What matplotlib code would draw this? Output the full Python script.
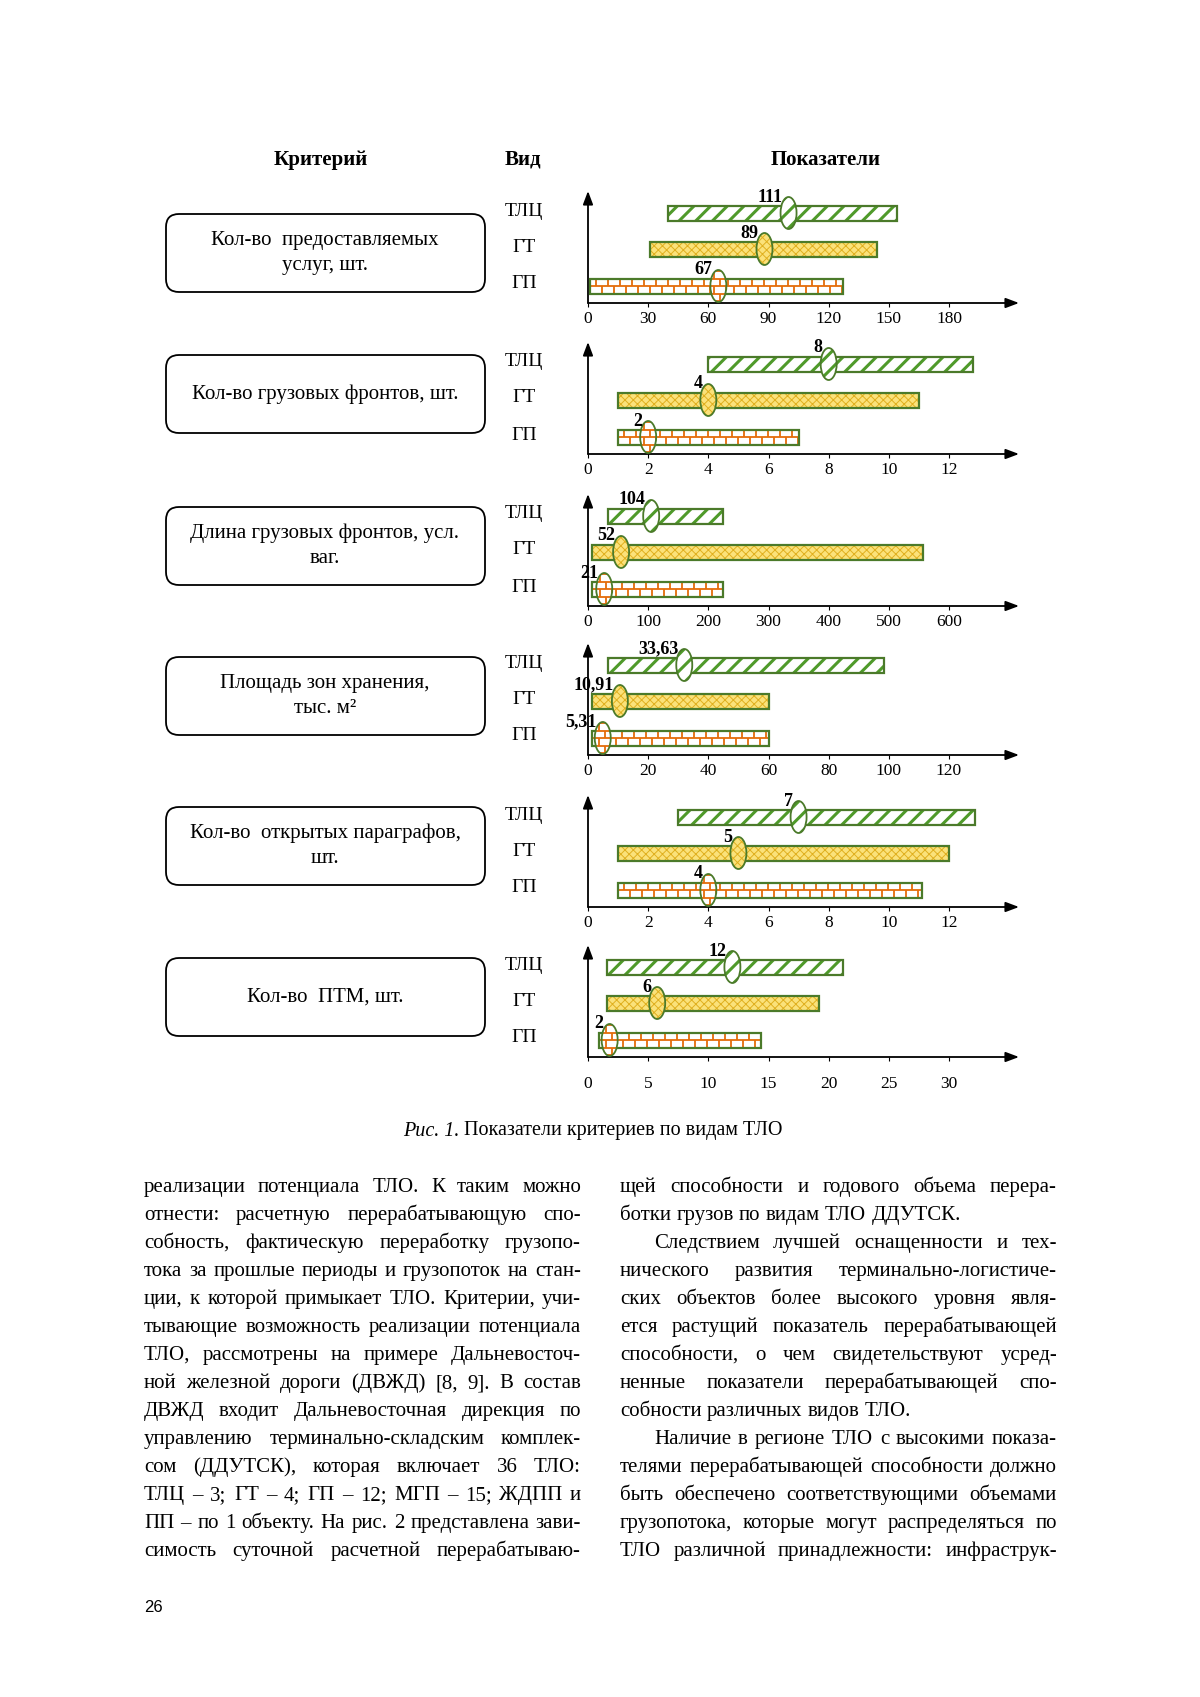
import numpy as np
import matplotlib
matplotlib.use("Agg")
import matplotlib.pyplot as plt
from matplotlib.patches import Rectangle, Ellipse, FancyBboxPatch
from matplotlib.collections import LineCollection

plt.rcParams['font.family'] = ['Liberation Serif', 'DejaVu Serif']

# --- данные ---
criteria = [
    ["Кол-во  предоставляемых", "услуг, шт."],
    ["Кол-во грузовых фронтов, шт."],
    ["Длина грузовых фронтов, усл.", "ваг."],
    ["Площадь зон хранения,", "тыс. м²"],
    ["Кол-во  открытых параграфов,", "шт."],
    ["Кол-во  ПТМ, шт."],
]
kinds = ["ТЛЦ", "ГТ", "ГП"]
x_max = [180, 12, 600, 120, 12, 30]
x_step = [30, 2, 100, 20, 2, 5]
bar_start = [[40, 31, 1], [4, 1, 1], [33, 7, 7], [6.6, 1.4, 1.4], [3, 1, 1], [1.6, 1.6, 0.9]]
bar_end = [[154, 144, 127], [12.8, 11, 7], [224, 556, 224], [98.5, 60, 60.3], [12.85, 12, 11.1], [21.2, 19.2, 14.4]]
mark_pos = [[100, 88, 65], [8, 4, 2], [105, 55, 27], [32, 10.6, 4.9], [7, 5, 4], [12, 5.75, 1.8]]
mark_label = [["111", "89", "67"], ["8", "4", "2"], ["104", "52", "21"],
              ["33,63", "10,91", "5,31"], ["7", "5", "4"], ["12", "6", "2"]]

left_col = [
    "реализации потенциала ТЛО. К таким можно",
    "отнести: расчетную перерабатывающую спо-",
    "собность, фактическую переработку грузопо-",
    "тока за прошлые периоды и грузопоток на стан-",
    "ции, к которой примыкает ТЛО. Критерии, учи-",
    "тывающие возможность реализации потенциала",
    "ТЛО, рассмотрены на примере Дальневосточ-",
    "ной железной дороги (ДВЖД) [8, 9]. В состав",
    "ДВЖД входит Дальневосточная дирекция по",
    "управлению терминально-складским комплек-",
    "сом (ДДУТСК), которая включает 36 ТЛО:",
    "ТЛЦ – 3; ГТ – 4; ГП – 12; МГП – 15; ЖДПП и",
    "ПП – по 1 объекту. На рис. 2 представлена зави-",
    "симость суточной расчетной перерабатываю-",
]
right_col = [
    "щей способности и годового объема перера-",
    "ботки грузов по видам ТЛО ДДУТСК.",
    "Следствием лучшей оснащенности и тех-",
    "нического развития терминально-логистиче-",
    "ских объектов более высокого уровня явля-",
    "ется растущий показатель перерабатывающей",
    "способности, о чем свидетельствуют усред-",
    "ненные показатели перерабатывающей спо-",
    "собности различных видов ТЛО.",
    "Наличие в регионе ТЛО с высокими показа-",
    "телями перерабатывающей способности должно",
    "быть обеспечено соответствующими объемами",
    "грузопотока, которые могут распределяться по",
    "ТЛО различной принадлежности: инфраструк-",
]
right_last = {1, 8}      # последние строки абзацев
right_indent = {2, 9}    # красная строка

# --- стили ---
EDGE = '#4b7a2a'
GREEN = '#4f9a2a'
YEL_FC = '#fbe27a'
YEL_H = '#e0b020'
ORANGE = '#e46c0a'

W, H = 1200, 1697
fig = plt.figure(figsize=(W / 100, H / 100), dpi=100)
page = fig.add_axes([0, 0, 1, 1])
page.set_xlim(0, W)
page.set_ylim(H, 0)
page.axis('off')
renderer = fig.canvas.get_renderer()

# заголовки
for x, s in [(321, "Критерий"), (523, "Вид"), (826, "Показатели")]:
    page.text(x, 160, s, fontsize=15, fontweight='bold', ha='center', va='center')

axis_y = [303, 454, 606, 755, 907, 1057]
box_top = [214, 355, 507, 657, 807, 958]
row_off = [90, 54, 17]
tick_pad = [3, 3, 3, 3, 3, 11]
x0_px, x1_px, xt_px = 588, 1019, 949


def hatch_lw(patch, lw):
    if hasattr(patch, 'set_hatch_linewidth'):
        patch.set_hatch_linewidth(lw)


def brick_lines(ax, clip, xa, xb, ya, yb, bw, rh, z):
    segs = []
    ys = np.arange(ya, yb + 0.01, rh)
    for i, y in enumerate(ys[:-1]):
        off = (i % 2) * bw / 2
        for x in np.arange(xa - bw + off, xb + bw, bw):
            segs.append([(x, y), (x, y + rh)])
    for y in ys:
        segs.append([(xa - bw, y), (xb + bw, y)])
    lc = LineCollection(segs, colors=ORANGE, linewidths=1.3, zorder=z)
    ax.add_collection(lc)
    lc.set_clip_path(clip)


for p in range(6):
    ay = axis_y[p]
    ax = fig.add_axes([x0_px / W, (H - ay) / H, (x1_px - x0_px) / W, 112 / H])
    xr = x_max[p] * (x1_px - x0_px) / (xt_px - x0_px)
    ax.set_xlim(0, xr)
    ax.set_ylim(0, 112)
    ppu = (x1_px - x0_px) / xr
    for s in ax.spines.values():
        s.set_visible(False)
    ax.set_yticks([])
    tv = np.arange(0, x_max[p] + 0.001, x_step[p])
    ax.set_xticks(tv)
    ax.set_xticklabels([str(int(v)) for v in tv])
    ax.tick_params(axis='x', direction='out', length=3, width=0.8, pad=tick_pad[p], labelsize=12.5)
    for xy in [(xr, 0), (0, 112)]:
        ax.annotate('', xy=xy, xytext=(0, 0), annotation_clip=False,
                    arrowprops=dict(arrowstyle='-|>,head_length=0.8,head_width=0.3', color='black',
                                    lw=1.3, shrinkA=0, shrinkB=0))

    bh = 15
    ew, eh = 16 / ppu, 32
    bw = 12 / ppu
    for k in range(3):
        yc = row_off[k]
        lo, hi = bar_start[p][k], bar_end[p][k]
        m = mark_pos[p][k]
        if k == 0:
            fk = dict(facecolor='white', edgecolor=GREEN, hatch='//')
            hl = 2.2
        elif k == 1:
            fk = dict(facecolor=YEL_FC, edgecolor=YEL_H, hatch='xxxx')
            hl = 0.7
        else:
            fk = dict(facecolor='white', edgecolor='white')
            hl = 1.0
        rf = Rectangle((lo, yc - bh / 2), hi - lo, bh, linewidth=0, zorder=2, **fk)
        hatch_lw(rf, hl)
        ax.add_patch(rf)
        if k == 2:
            brick_lines(ax, rf, lo, hi, yc - bh / 2, yc + bh / 2, bw, bh / 2, 3)
        ax.add_patch(Rectangle((lo, yc - bh / 2), hi - lo, bh, fill=False, edgecolor=EDGE,
                               linewidth=1.6, zorder=4))

        ef = Ellipse((m, yc), ew, eh, linewidth=0, zorder=5, **fk)
        hatch_lw(ef, hl)
        ax.add_patch(ef)
        if k == 2:
            brick_lines(ax, ef, m - ew, m + ew, yc - bh / 2 - bh, yc + bh / 2 + bh, bw, bh / 2, 6)
        ax.add_patch(Ellipse((m, yc), ew, eh, fill=False, edgecolor=EDGE, linewidth=1.3, zorder=7))
        ax.annotate(mark_label[p][k], xy=(m, yc), xytext=(-6, 16), textcoords='offset pixels',
                    ha='right', va='center', fontsize=13, fontweight='bold', zorder=8,
                    annotation_clip=False)

    # подписи видов
    for k in range(3):
        page.text(524, ay - row_off[k] - 2, kinds[k], fontsize=14, ha='center', va='center')

    # блок критерия
    bt = box_top[p]
    page.add_patch(FancyBboxPatch((166, bt), 319, 78, boxstyle='round,pad=0,rounding_size=13',
                                  facecolor='white', edgecolor='black', linewidth=1.3))
    lines = criteria[p]
    cy = bt + 39
    for i, s in enumerate(lines):
        yy = cy + (i - (len(lines) - 1) / 2) * 25
        page.text(325, yy, s, fontsize=15, ha='center', va='center')

# подпись рисунка
cap_y = 1131
t1 = page.text(0, cap_y, "Рис. 1.", fontsize=14.5, fontstyle='italic', va='center')
t2 = page.text(0, cap_y, " Показатели критериев по видам ТЛО", fontsize=14.5, va='center')
w1 = t1.get_window_extent(renderer).width
w2 = t2.get_window_extent(renderer).width
xs = 593 - (w1 + w2) / 2
t1.set_x(xs)
t2.set_x(xs + w1)


def set_line(s, x0, x1, y, fs, justify):
    words = s.split()
    ts = [page.text(0, y, w, fontsize=fs, va='baseline') for w in words]
    ws = [t.get_window_extent(renderer).width for t in ts]
    a2 = page.text(0, 0, "a a", fontsize=fs)
    a1 = page.text(0, 0, "a", fontsize=fs)
    sp = a2.get_window_extent(renderer).width - 2 * a1.get_window_extent(renderer).width
    a2.remove()
    a1.remove()
    if justify and len(words) > 1:
        gap = (x1 - x0 - sum(ws)) / (len(words) - 1)
    else:
        gap = sp
    x = x0
    for t, w in zip(ts, ws):
        t.set_x(x)
        x += w + gap


FS = 15
for i in range(14):
    y = 1192 + i * 28.0
    set_line(left_col[i], 144, 581, y, FS, True)
    xs0 = 654 if i in right_indent else 620
    set_line(right_col[i], xs0, 1057, y, FS, i not in right_last)

page.text(144, 1607, "26", fontsize=12, family='Liberation Sans', va='center')

fig.savefig("out.png", dpi=100)
